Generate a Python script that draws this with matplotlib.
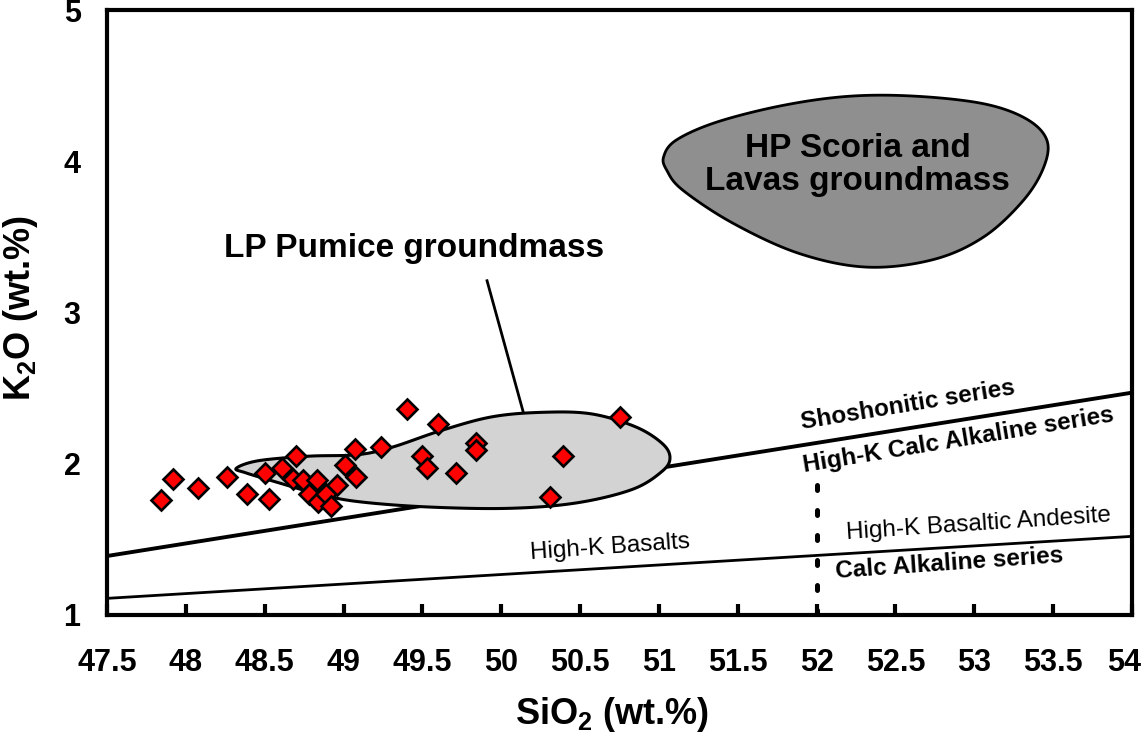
import numpy as np
import matplotlib
matplotlib.use("Agg")
import matplotlib.pyplot as plt
from matplotlib.transforms import ScaledTranslation

plt.rcParams["font.family"] = ["Liberation Sans", "DejaVu Sans"]
plt.rcParams["mathtext.fontset"] = "custom"
plt.rcParams["mathtext.rm"] = "Liberation Sans:bold"
plt.rcParams["mathtext.it"] = "Liberation Sans:bold"
plt.rcParams["mathtext.bf"] = "Liberation Sans:bold"

# groundmass analyses (SiO2, K2O wt.%)
sio2 = [47.84, 47.92, 48.08, 48.26, 48.39, 48.53, 48.50, 48.61, 48.70, 48.68,
        48.74, 48.83, 48.78, 48.84, 48.89, 48.92, 48.96, 49.01, 49.07, 49.08,
        49.24, 49.40, 49.60, 49.50, 49.53, 49.71, 49.84, 49.84, 50.39, 50.31,
        50.75]
k2o = [1.76, 1.90, 1.84, 1.91, 1.80, 1.77, 1.94, 1.97, 2.05, 1.90,
       1.89, 1.89, 1.80, 1.75, 1.80, 1.72, 1.86, 1.99, 2.10, 1.91,
       2.11, 2.36, 2.26, 2.05, 1.97, 1.94, 2.14, 2.09, 2.05, 1.78,
       2.31]

# series boundaries
shosho_x = [47.5, 54.0]
shosho_y = [1.39, 2.47]
calc_x = [47.5, 54.0]
calc_y = [1.11, 1.52]
andesite_x = [52.0, 52.0]
andesite_y = [1.0, 1.86]

# field outlines
lp_x = [48.32, 48.46, 48.78, 49.09, 49.31, 49.62, 49.94, 50.26, 50.57, 50.85,
        51.02, 51.07, 51.02, 50.83, 50.47, 50.04, 49.52, 49.09, 48.84, 48.57,
        48.38]
lp_y = [1.97, 2.02, 2.05, 2.06, 2.11, 2.22, 2.31, 2.34, 2.33, 2.245,
        2.135, 2.04, 1.95, 1.83, 1.74, 1.705, 1.715, 1.75, 1.80, 1.88,
        1.94]
hp_x = [51.03, 51.11, 51.37, 51.79, 52.21, 52.63, 53.06, 53.33, 53.46, 53.44,
        53.31, 53.06, 52.74, 52.32, 51.89, 51.47, 51.15, 51.05]
hp_y = [4.03, 4.14, 4.26, 4.37, 4.43, 4.43, 4.38, 4.28, 4.14, 3.96,
        3.74, 3.50, 3.35, 3.30, 3.39, 3.59, 3.81, 3.94]


def closed_spline(xs, ys, n=20):
    # periodic Catmull-Rom through the outline points
    p = np.column_stack([xs, ys])
    m = len(p)
    out = []
    t = np.linspace(0, 1, n, endpoint=False)[:, None]
    for i in range(m):
        p0, p1, p2, p3 = p[i - 1], p[i], p[(i + 1) % m], p[(i + 2) % m]
        seg = 0.5 * ((2 * p1) + (-p0 + p2) * t
                     + (2 * p0 - 5 * p1 + 4 * p2 - p3) * t ** 2
                     + (-p0 + 3 * p1 - 3 * p2 + p3) * t ** 3)
        out.append(seg)
    out = np.vstack(out)
    return out[:, 0], out[:, 1]


fig = plt.figure(figsize=(11.45, 7.4), dpi=100)
ax = fig.add_axes([107 / 1145, 1 - 615 / 740, 1025 / 1145, 605 / 740])

ax.plot(shosho_x, shosho_y, color="black", lw=2.8, zorder=2)
ax.plot(calc_x, calc_y, color="black", lw=2.0, zorder=2)
ax.plot(andesite_x, andesite_y, color="black", lw=3.6, dashes=(1, 4),
        dash_capstyle="round", zorder=2)

lx, ly = closed_spline(lp_x, lp_y)
ax.fill(lx, ly, facecolor="#d3d3d3", edgecolor="black", lw=2.2, zorder=3)
hx, hy = closed_spline(hp_x, hp_y)
ax.fill(hx, hy, facecolor="#8f8f8f", edgecolor="black", lw=2.0, zorder=3)

ax.plot(sio2, k2o, linestyle="none", marker="D", markersize=10.5,
        markerfacecolor="red", markeredgecolor="black", markeredgewidth=1.9,
        zorder=5)

# labels
ax.text(52.26, 3.975, "HP Scoria and\nLavas groundmass", fontsize=24,
        fontweight="bold", ha="center", va="center", linespacing=1.05, zorder=6)
ax.text(49.45, 3.42, "LP Pumice groundmass", fontsize=24, fontweight="bold",
        ha="center", va="center", zorder=6)
ax.plot([49.91, 50.14], [3.21, 2.34], color="black", lw=2.0, zorder=2)

ax.text(52.58, 2.39, "Shoshonitic series", fontsize=17.5, fontweight="bold",
        rotation=9.3, ha="center", va="center", rotation_mode="anchor")
ax.text(52.90, 2.157, "High-K Calc Alkaline series", fontsize=17.5,
        fontweight="bold", rotation=9.3, ha="center", va="center",
        rotation_mode="anchor")
ax.text(53.03, 1.60, "High-K Basaltic Andesite", fontsize=17.5,
        rotation=3.8, ha="center", va="center", rotation_mode="anchor")
ax.text(52.84, 1.34, "Calc Alkaline series", fontsize=17.5, fontweight="bold",
        rotation=4.0, ha="center", va="center", rotation_mode="anchor")
ax.text(50.69, 1.445, "High-K Basalts", fontsize=17.5, rotation=4.0,
        ha="center", va="center", rotation_mode="anchor")

ax.set_xlim(47.5, 54)
ax.set_ylim(1, 5)
xt = np.arange(47.5, 54.01, 0.5)
ax.set_xticks(xt)
ax.set_xticklabels([f"{v:g}" for v in xt])
ax.set_yticks([1, 2, 3, 4, 5])
ax.tick_params(axis="x", direction="in", length=8, width=3, pad=24,
               labelsize=22)
ax.tick_params(axis="y", length=0, pad=19, labelsize=22)
for lab in ax.get_xticklabels() + ax.get_yticklabels():
    lab.set_fontweight("bold")
# keep the last label inside the canvas
last = ax.get_xticklabels()[-1]
last.set_transform(last.get_transform()
                   + ScaledTranslation(-8 / 100, 0, fig.dpi_scale_trans))
for sp in ax.spines.values():
    sp.set_linewidth(3)

fig.text(612 / 1145, 1 - 715 / 740, "SiO$_2$ (wt.%)", fontsize=26,
         fontweight="bold", ha="center", va="center")
fig.text(21 / 1145, 1 - 308 / 740, "K$_2$O (wt.%)", fontsize=26,
         fontweight="bold", ha="center", va="center", rotation=90)

fig.savefig("out.png", dpi=100, facecolor="white")
